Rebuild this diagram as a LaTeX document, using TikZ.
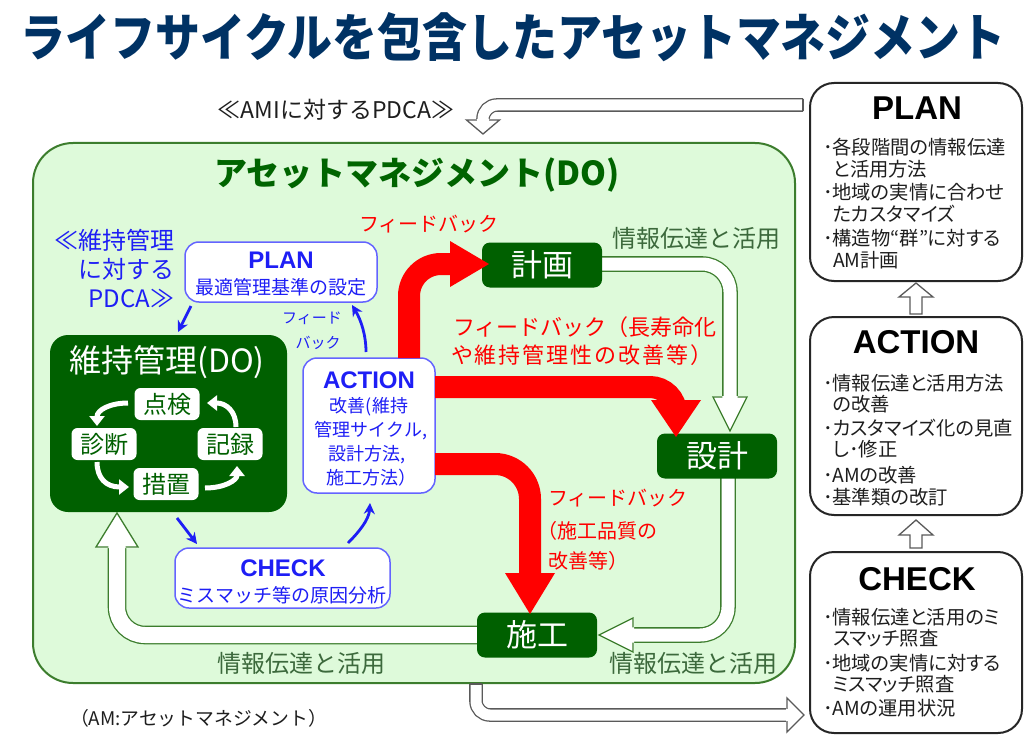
\documentclass[tikz,border=0pt]{standalone}
\usepackage{graphicx}
\usepackage{fontspec}
\setmainfont{Noto Sans CJK JP}
\newfontfamily\jpp{Noto Sans CJK JP}[RawFeature=+palt]
\newfontfamily\arialf{Liberation Sans}
\usetikzlibrary{arrows.meta}
\definecolor{navy}{RGB}{0,50,100}
\definecolor{dogreen}{RGB}{0,96,0}
\definecolor{lightg}{RGB}{222,250,218}
\definecolor{boxg}{RGB}{60,125,45}
\definecolor{infog}{RGB}{60,105,60}
\definecolor{pblue}{RGB}{30,30,245}
\definecolor{bblue}{RGB}{100,100,255}
\definecolor{fred}{RGB}{255,0,0}
\definecolor{gline}{RGB}{90,90,90}
\definecolor{dtext}{RGB}{30,30,30}
\definecolor{dotitle}{RGB}{0,100,0}
\tikzset{
  gnode/.style={fill=dogreen, rounded corners=8, minimum width=120, minimum height=45, text=white, font=\fontsize{31}{31}\selectfont},
  wbox/.style={fill=white, rounded corners=6, minimum width=65, minimum height=32, text=dogreen, font=\fontsize{24}{24}\selectfont},
  bluebox/.style={draw=bblue, line width=1.5, fill=white, rounded corners=14},
  rbox/.style={draw=black!85, line width=2, fill=white, rounded corners=24},
  hollowG/.style={draw=boxg, double=white, double distance=13, line width=1.3, rounded corners=28},
  hollowK/.style={draw=gline, double=white, double distance=11, line width=1.3, rounded corners=14},
  redshaft/.style={draw=fred, line width=22},
  barrow/.style={draw=pblue, line width=2.8, -{Stealth[length=11, width=11]}},
  warrow/.style={draw=white, line width=5, -{Triangle[length=10, width=15]}},
  infotext/.style={text=infog, font=\fontsize{24}{24}\selectfont},
  redtext/.style={text=fred, font=\fontsize{20}{20}\selectfont},
  rtext/.style={anchor=west, text=dtext, font=\jpp\fontsize{19.3}{19.3}\selectfont},
  rtitle/.style={text=black, font=\arialf\bfseries\fontsize{33}{33}\selectfont},
  ltitle/.style={text=pblue, font=\arialf\bfseries\fontsize{24}{24}\selectfont},
  lsub/.style={text=pblue, font=\fontsize{19}{19}\selectfont},
}
\begin{document}
\begin{tikzpicture}[x=1pt, y=-1pt, every node/.append style={inner sep=0, outer sep=0}]
\useasboundingbox (0,0) rectangle (1033,741);
\fill[white] (0,0) rectangle (1033,741);

% title
\node[text=navy] (title) at (513,37) {\resizebox{985pt}{44pt}{\bfseries\fontsize{50}{50}\selectfont ライフサイクルを包含したアセットマネジメント}};
\node[text=dtext, font=\fontsize{23}{23}\selectfont] (amp) at (336,110) {≪AMIに対するPDCA≫};

% big green box
\node[draw=boxg, fill=lightg, line width=2, rounded corners=40, minimum width=762, minimum height=540] (am) at (414,413) {};
\node[text=dotitle, font=\bfseries\fontsize{33}{33}\selectfont] (amtitle) at (417,175) {アセットマネジメント(DO)};

% right boxes
\node[rbox, minimum width=212, minimum height=198] (rplan) at (916,182) {};
\node[rbox, minimum width=212, minimum height=198] (raction) at (916,416) {};
\node[rbox, minimum width=212, minimum height=181] (rcheck) at (916,642.5) {};

% outer gray connectors
\draw[hollowK] (803,105) -- (483,105) -- (483,120);
\draw[gline, line width=1.3] (803,98.85) -- (803,111.15);
\fill[white] (466.5,119) -- (483,134) -- (499.5,119) -- cycle;
\draw[gline, line width=1.3] (476.85,120) -- (466.5,120) -- (483,134) -- (499.5,120) -- (489.15,120);

\draw[hollowK] (476,684) -- (476,715) -- (787,715);
\draw[gline, line width=1.3] (469.85,684) -- (482.15,684);
\fill[white] (786,698) -- (804,715) -- (786,732) -- cycle;
\draw[gline, line width=1.3] (787,708.85) -- (787,698) -- (804,715) -- (787,732) -- (787,721.15);

\draw[gline, fill=white, line width=1.3] (910,314) -- (910,297) -- (899,297) -- (916,283) -- (933,297) -- (922,297) -- (922,314) -- cycle;
\draw[gline, fill=white, line width=1.3] (910,548) -- (910,535) -- (899,535) -- (916,520) -- (933,535) -- (922,535) -- (922,548) -- cycle;

% right box texts
\node[rtitle] (rplant) at (917,108) {PLAN};
\node[rtext] (rp1) at (823,147) {･各段階間の情報伝達};
\node[rtext] (rp2) at (833,169) {と活用方法};
\node[rtext] (rp3) at (823,192) {･地域の実情に合わせ};
\node[rtext] (rp4) at (833,214) {たカスタマイズ};
\node[rtext] (rp5) at (823,238) {･構造物“群”に対する};
\node[rtext] (rp6) at (833,260) {AM計画};

\node[rtitle] (ractiont) at (916,342) {ACTION};
\node[rtext] (ra1) at (823,383) {･情報伝達と活用方法};
\node[rtext] (ra2) at (833,404) {の改善};
\node[rtext] (ra3) at (823,428) {･カスタマイズ化の見直};
\node[rtext] (ra4) at (833,449) {し･修正};
\node[rtext] (ra5) at (823,475) {･AMの改善};
\node[rtext] (ra6) at (823,497) {･基準類の改訂};

\node[rtitle] (rcheckt) at (917,579) {CHECK};
\node[rtext] (rc1) at (823,617) {･情報伝達と活用のミ};
\node[rtext] (rc2) at (833,638) {スマッチ照査};
\node[rtext] (rc3) at (823,663) {･地域の実情に対する};
\node[rtext] (rc4) at (833,684) {ミスマッチ照査};
\node[rtext] (rc5) at (823,708) {･AMの運用状況};

% hollow green arrows (information flow)
\draw[hollowG] (602,264) -- (730,264) -- (730,397);
\fill[white] (713,396) -- (730,431) -- (747,396) -- cycle;
\draw[boxg, line width=1.3] (722.35,397) -- (713,397) -- (730,431) -- (747,397) -- (737.65,397);

\draw[hollowG] (728,478) -- (728,635) -- (633,635);
\fill[white] (634,618) -- (599,635) -- (634,652) -- cycle;
\draw[boxg, line width=1.3] (633,627.35) -- (633,618) -- (599,635) -- (633,652) -- (633,642.65);

\draw[hollowG, double distance=16] (478,635) -- (117,635) -- (117,547);
\fill[white] (96,548) -- (117,513) -- (138,548) -- cycle;
\draw[boxg, line width=1.3] (108.35,547) -- (96,547) -- (117,513) -- (138,547) -- (125.65,547);

% green process nodes
\node[gnode] (keikaku) at (542,265) {計画};
\node[gnode] (sekkei) at (717,456) {設計};
\node[gnode] (sekou) at (537,635) {施工};

\node[infotext] (info1) at (696,238) {情報伝達と活用};
\node[infotext] (info2) at (301,663) {情報伝達と活用};
\node[infotext] (info3) at (693,663) {情報伝達と活用};

% maintenance DO box
\node[fill=dogreen, rounded corners=18, minimum width=237, minimum height=177] (iji) at (168.5,423.5) {};
\node[text=white, font=\fontsize{32}{32}\selectfont] (ijit) at (167,362) {維持管理(DO)};
\node[wbox] (tenken) at (167,404) {点検};
\node[wbox] (shindan) at (104,444) {診断};
\node[wbox] (kiroku) at (230,444) {記録};
\node[wbox] (sochi) at (166,484) {措置};
\draw[warrow] (128,403) .. controls (110,403) and (97,410) .. (97,426);
\draw[warrow] (236,427) .. controls (236,411) and (226,403) .. (207,403);
\draw[warrow] (97,462) .. controls (97,478) and (106,487) .. (129,487);
\draw[warrow] (205,488) .. controls (225,488) and (237,480) .. (237,466);

% PDCA blue boxes
\node[bluebox, minimum width=192, minimum height=60] (lplan) at (281,272) {};
\node[ltitle] (lplant) at (281,260) {PLAN};
\node[lsub] (lplans) at (281,287) {最適管理基準の設定};

\node[bluebox, minimum width=132, minimum height=135] (action) at (369,425.5) {};
\node[ltitle] (actiont) at (369,380) {ACTION};
\node[lsub, font=\fontsize{18}{18}\selectfont] (acts1) at (369,407) {改善(維持};
\node[lsub, font=\fontsize{18}{18}\selectfont] (acts2) at (371,431) {管理サイクル,};
\node[lsub, font=\fontsize{18}{18}\selectfont] (acts3) at (367,455) {設計方法,};
\node[lsub, font=\fontsize{18}{18}\selectfont] (acts4) at (371,478) {施工方法）};

\node[bluebox, minimum width=215, minimum height=60] (lcheck) at (282.5,578) {};
\node[ltitle] (lcheckt) at (283,568) {CHECK};
\node[lsub] (lchecks) at (282,595) {ミスマッチ等の原因分析};

\node[lsub, font=\fontsize{24}{24}\selectfont, anchor=east] (pd1) at (174,240) {≪維持管理};
\node[lsub, font=\fontsize{24}{24}\selectfont, anchor=east] (pd2) at (174,269) {に対する};
\node[lsub, font=\fontsize{24}{24}\selectfont, anchor=east] (pd3) at (174,298) {PDCA≫};

\node[lsub, font=\fontsize{15}{15}\selectfont] (fb1) at (312,318) {フィード};
\node[lsub, font=\fontsize{15}{15}\selectfont] (fb2) at (318,343) {バック};

% blue arrows
\draw[barrow] (191,306) -- (178,332);
\draw[barrow] (177,518) -- (197,544);
\draw[barrow] (348,543) .. controls (358,533) and (369,520) .. (370,503);
\draw[barrow] (366,352) .. controls (366,335) and (361,320) .. (352,305);

% red feedback arrows
\draw[redshaft, rounded corners=32] (409,358) -- (409,264) -- (452,264);
\fill[fred] (450,241) -- (489,264) -- (450,287) -- cycle;
\draw[redshaft, rounded corners=26] (435,387) -- (676,387) -- (676,414);
\fill[fred] (651,400) -- (676,437) -- (701,400) -- cycle;
\draw[redshaft, rounded corners=35] (435,464) -- (530,464) -- (530,575);
\fill[fred] (505,573) -- (530,614) -- (555,573) -- cycle;

\node[redtext] (rf1) at (429,224) {フィードバック};
\node[redtext, anchor=west, font=\fontsize{22}{22}\selectfont] (rf2) at (453,327) {フィードバック（長寿命化};
\node[redtext, anchor=west, font=\fontsize{22}{22}\selectfont\addfontfeature{LetterSpace=9}] (rf3) at (451,355) {や維持管理性の改善等）};
\node[redtext, anchor=west] (rf4) at (548,498) {フィードバック};
\node[redtext, anchor=west] (rf5) at (537,531) {（施工品質の};
\node[redtext, anchor=west] (rf6) at (548,561) {改善等）};

\node[text=dtext, anchor=west, font=\fontsize{18.8}{18.8}\selectfont] (note) at (70,718) {（AM:アセットマネジメント）};
\end{tikzpicture}
\end{document}
